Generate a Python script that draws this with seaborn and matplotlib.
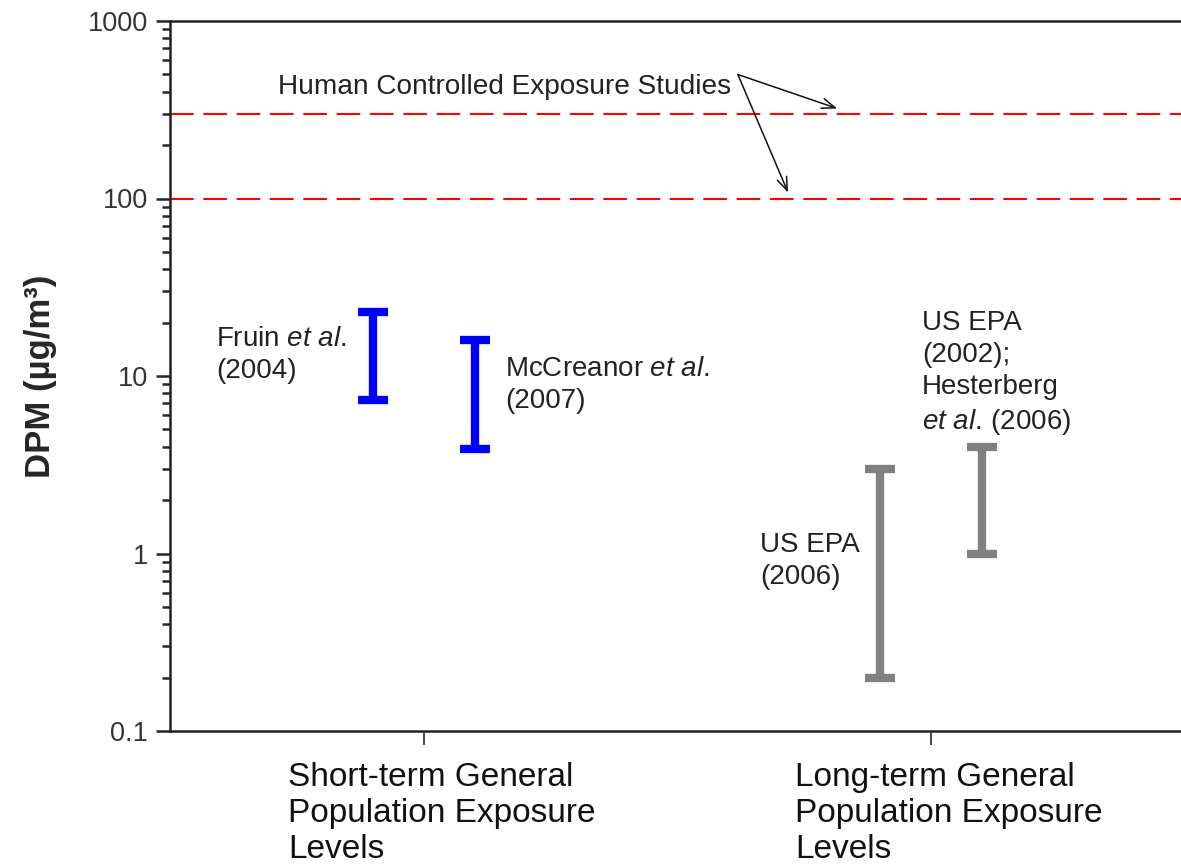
import matplotlib
matplotlib.use("Agg")
import matplotlib.pyplot as plt
import matplotlib.transforms as mtransforms
import seaborn as sns
import numpy as np
import pandas as pd

# ---- data ----
categories = ["Short-term General\nPopulation Exposure\nLevels",
              "Long-term General\nPopulation Exposure\nLevels"]
studies = ["Fruin", "McCreanor", "US EPA 2006", "US EPA 2002"]
study_category = [0, 0, 1, 1]
study_offset = [-0.1, 0.1, -0.1, 0.1]
study_low = [7.3, 3.9, 0.2, 1.0]
study_high = [23.0, 16.0, 3.0, 4.0]
study_group = ["short", "short", "long", "long"]
study_labels = [r"Fruin $\mathit{et\ al.}$" + "\n(2004)",
                r"McCreanor $\mathit{et\ al.}$" + "\n(2007)",
                "US EPA\n(2006)",
                "US EPA\n(2002);\nHesterberg\n" + r"$\mathit{et\ al.}\,$(2006)"]
controlled_levels = [100, 300]
yticks = [0.1, 1, 10, 100, 1000]
ytick_labels = ["0.1", "1", "10", "100", "1000"]

sns.set_theme(style="ticks")
plt.rcParams['font.family'] = ['Liberation Sans', 'DejaVu Sans']
plt.rcParams['mathtext.fontset'] = 'custom'
plt.rcParams['mathtext.rm'] = 'Liberation Sans'
plt.rcParams['mathtext.it'] = 'Liberation Sans:italic'
plt.rcParams['lines.scale_dashes'] = False

palette = {"short": "#0000FF", "long": "#808080"}

df = pd.DataFrame({
    "study": studies,
    "x": np.array(study_category) + np.array(study_offset),
    "low": study_low,
    "high": study_high,
    "group": study_group,
})

fig = plt.figure(figsize=(11.81, 8.66), dpi=100)
ax = fig.add_axes([170/1181, 1 - 731/866, 1 - 170/1181, (731 - 21)/866])

for _, r in df.iterrows():
    mid = np.sqrt(r["low"] * r["high"])
    ax.errorbar([r["x"]], [mid], yerr=[[mid - r["low"]], [r["high"] - mid]],
                fmt="none", ecolor=palette[r["group"]], elinewidth=6,
                capsize=10.5, capthick=6, zorder=3)

for lv in controlled_levels:
    ax.axhline(lv, color="#FF0000", lw=1.5, dashes=(17, 7), zorder=2)

ax.set_yscale("log")
ax.set_ylim(0.1, 1000)
ax.set_xlim(-0.501, 1.493)
ax.set_yticks(yticks)
ax.set_yticklabels(ytick_labels)
ax.set_xticks([0, 1])

ax.tick_params(axis="y", which="major", length=10, width=1.8, labelsize=19.5,
               labelcolor="#333333", direction="out", pad=6)
ax.tick_params(axis="y", which="minor", length=6, width=1.8, direction="out")
ax.tick_params(axis="x", which="major", length=10, width=1.2, direction="out", pad=12)

ax.set_xticklabels(categories, fontsize=24, color="#111111", multialignment="left")
offset = mtransforms.ScaledTranslation(18/100, 0, fig.dpi_scale_trans)
for lab in ax.get_xticklabels():
    lab.set_transform(lab.get_transform() + offset)
    lab.set_linespacing(1.22)

for s in ["left", "bottom", "top"]:
    ax.spines[s].set_linewidth(1.8)
    ax.spines[s].set_color("#222222")
ax.spines["right"].set_visible(False)

ax.set_ylabel("DPM (µg/m³)", fontsize=25, fontweight="bold", labelpad=22)

# study labels
label_pos = [(-0.410, 10**((553 - 354)/177.5)),
             (0.160, 10**((553 - 384)/177.5)),
             (0.663, 10**((553 - 561)/177.5)),
             (0.982, 10**((553 - 373)/177.5))]
for (lx, ly), txt in zip(label_pos, study_labels):
    ax.text(lx, ly, txt, fontsize=20, color="#222222", ha="left", va="center",
            linespacing=1.3)

# annotation
ax.text(-0.288, 10**((553 - 87)/177.5), "Human Controlled Exposure Studies",
        fontsize=20.2, color="#222222", ha="left", va="center")
start = (0.619, 10**((553 - 74)/177.5))
for tip in [(0.815, 10**((553 - 108)/177.5)), (0.718, 10**((553 - 192)/177.5))]:
    ax.annotate("", xy=tip, xytext=start,
                arrowprops=dict(arrowstyle="->,head_length=0.8,head_width=0.3",
                                color="#111111", lw=1.1, shrinkA=0, shrinkB=0))

fig.savefig("out.png", dpi=100)
